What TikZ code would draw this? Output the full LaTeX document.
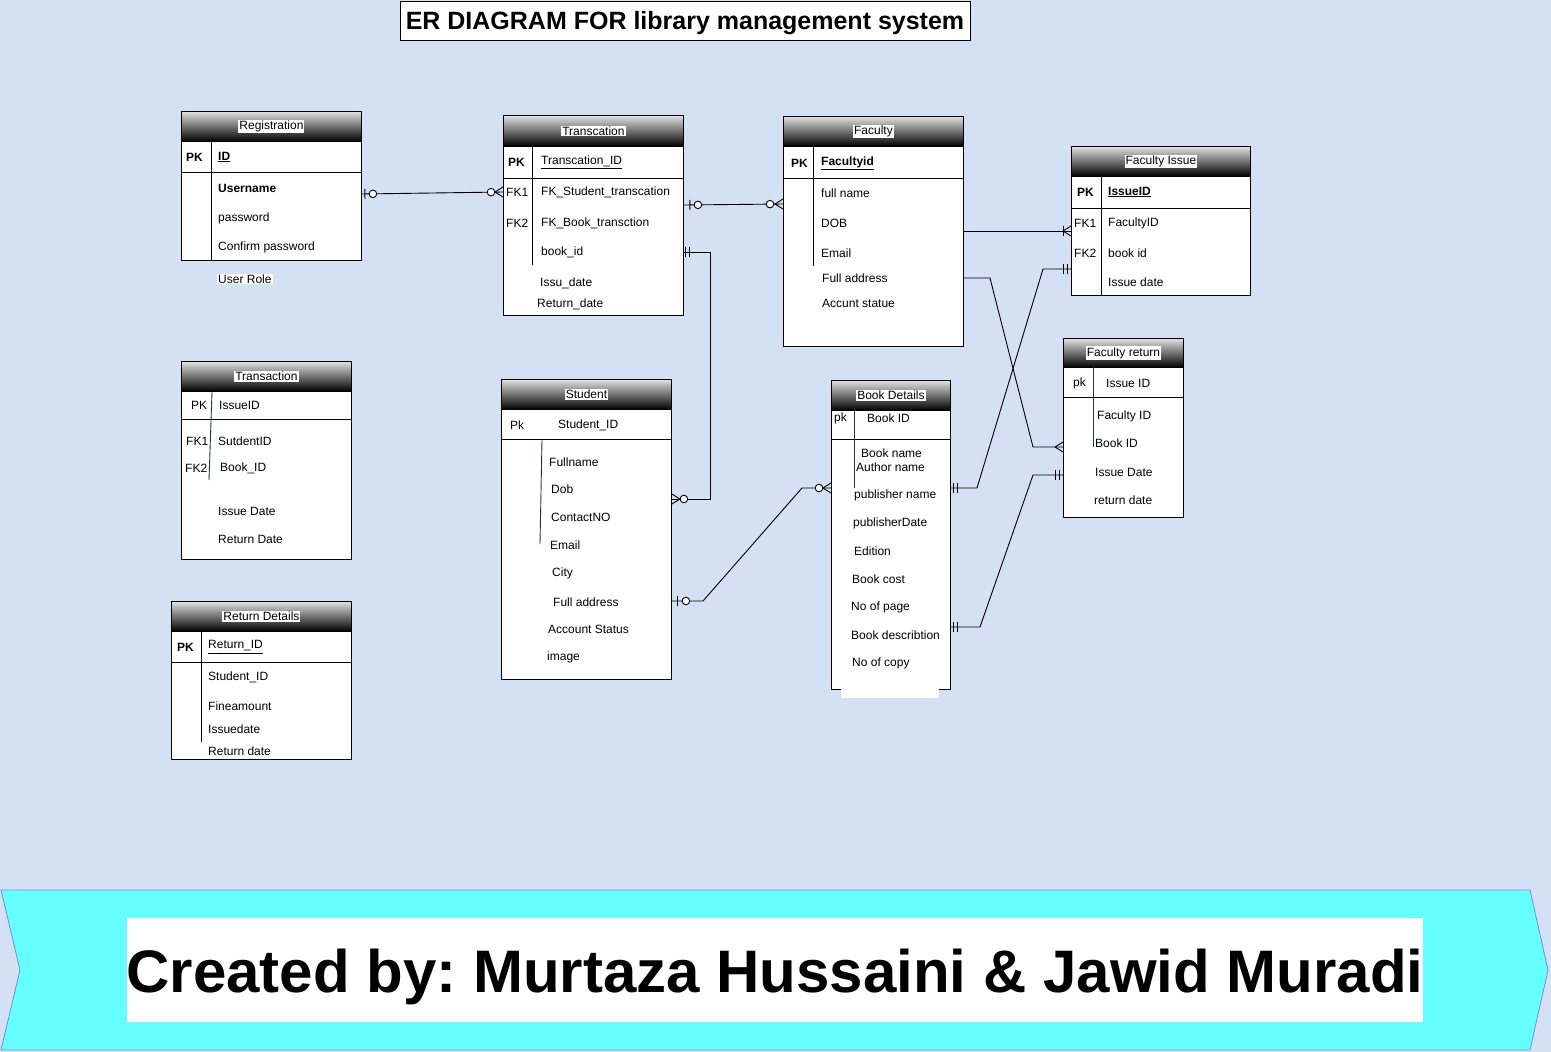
\documentclass[tikz,border=0pt]{standalone}
\usepackage{fontspec}
\setmainfont{Liberation Sans}
\usetikzlibrary{decorations.markings}

\definecolor{canvas}{HTML}{D4E1F5}
\definecolor{banner}{HTML}{66FFFF}
\definecolor{bannerline}{RGB}{120,140,215}
\definecolor{slate}{RGB}{35,52,72}

\begin{document}
\frenchspacing
\begin{tikzpicture}[x=1pt,y=-1pt,
    font=\fontsize{12}{14}\selectfont,
    tbl/.style={draw,line width=0.9pt,fill=white,anchor=north west,inner sep=0pt},
    hdr/.style={draw,line width=0.9pt,anchor=north west,inner sep=0pt,
      top color=white!88!black,bottom color=black,minimum height=30pt},
    lbl/.style={fill=white,inner sep=1pt},
    fld/.style={anchor=west,inner sep=0pt},
    key/.style={fld,font=\fontsize{12}{14}\selectfont\bfseries},
    sep/.style={line width=0.9pt},
    slatesep/.style={line width=0.9pt,draw=slate},
    rel/.style={draw,line width=0.9pt},
    onebar/.style={postaction={decorate,decoration={markings,
      mark=at position #1 with {\draw[line width=0.9pt] (0pt,-5pt) -- (0pt,5pt);}}}},
    zeroring/.style={postaction={decorate,decoration={markings,
      mark=at position #1 with {\draw[line width=0.9pt,fill=white] (0pt,0pt) circle (3.8pt);}}}},
    crowend/.style={postaction={decorate,decoration={markings,
      mark=at position 1 with {\draw[line width=0.9pt] (-8pt,0pt) -- (0pt,5pt) (-8pt,0pt) -- (0pt,-5pt);}}}}]

  \fill[canvas] (0,0) rectangle (1551,1052);
  \useasboundingbox (0,0) rectangle (1551,1052);

  % title
  \node[draw,line width=0.9pt,fill=white,minimum width=570pt,minimum height=39pt,inner sep=0pt,
    text depth=0pt,font=\fontsize{25}{29}\selectfont\bfseries] (title) at (685,20.5)
    {ER DIAGRAM FOR library management system};

  % Registration
  \node[tbl,minimum width=180pt,minimum height=149pt] (regbox) at (181,111) {};
  \node[hdr,minimum width=180pt] (reghead) at (181,111) {};
  \node[lbl] (reglbl) at (reghead.center) {Registration};
  \draw[sep] (181,172) -- (361,172);
  \draw[sep] (211,141) -- (211,260);
  \node[key] (regpk) at (186,157) {PK};
  \node[key] (regid) at (218,157) {\underline{ID}};
  \node[key] (regusr) at (218,188) {Username};
  \node[fld] (regpwd) at (218,218) {password};
  \node[fld] (regcpwd) at (218,247) {Confirm password};
  \node[fld,fill=white,inner sep=1pt] (regrole) at (217,279) {User Role};

  % Transcation
  \node[tbl,minimum width=180pt,minimum height=200pt] (transbox) at (503,115) {};
  \node[hdr,minimum width=180pt,minimum height=31pt] (transhead) at (503,115) {};
  \node[lbl] (translbl) at (transhead.center) {Transcation};
  \draw[sep] (503,178) -- (683,178);
  \draw[sep] (532,146) -- (532,265);
  \node[key] (transpk) at (508,162) {PK};
  \node[fld] (transid) at (541,162) {\underline{Transcation\_ID}};
  \node[fld] (transfka) at (506,192) {FK1};
  \node[fld] (transstud) at (541,192) {FK\_Student\_transcation};
  \node[fld] (transfkb) at (506,223) {FK2};
  \node[fld] (transbook) at (541,223) {FK\_Book\_transction};
  \node[fld] (transbid) at (541,252) {book\_id};
  \node[fld] (transissu) at (540,283) {Issu\_date};
  \node[fld] (transret) at (537,304) {Return\_date};

  % Faculty
  \node[tbl,minimum width=180pt,minimum height=230pt] (facbox) at (783,116) {};
  \node[hdr,minimum width=180pt] (fachead) at (783,116) {};
  \node[lbl] (faclbl) at (fachead.center) {Faculty};
  \draw[sep] (783,178) -- (963,178);
  \draw[sep] (813,146) -- (813,266);
  \node[key] (facpk) at (791,163) {PK};
  \node[key] (facid) at (821,163) {\underline{Facultyid}};
  \node[fld] (facname) at (821,193) {full name};
  \node[fld] (facdob) at (821,223) {DOB};
  \node[fld] (facmail) at (821,253) {Email};
  \node[fld] (facaddr) at (822,278) {Full address};
  \node[fld] (facstat) at (822,303) {Accunt statue};

  % Faculty Issue
  \node[tbl,minimum width=179pt,minimum height=149pt] (fibox) at (1071,146) {};
  \node[hdr,minimum width=179pt] (fihead) at (1071,146) {};
  \node[lbl] (filbl) at (fihead.center) {Faculty Issue};
  \draw[sep] (1071,208) -- (1250,208);
  \draw[sep] (1101,176) -- (1101,295);
  \node[key] (fipk) at (1077,192) {PK};
  \node[key] (fiid) at (1108,192) {\underline{IssueID}};
  \node[fld] (fifka) at (1074,223) {FK1};
  \node[fld] (fifac) at (1108,223) {FacultyID};
  \node[fld] (fifkb) at (1074,253) {FK2};
  \node[fld] (fibook) at (1108,253) {book id};
  \node[fld] (fidate) at (1108,282) {Issue date};

  % Transaction
  \node[tbl,minimum width=170pt,minimum height=198pt] (tnbox) at (181,361) {};
  \node[hdr,minimum width=170pt] (tnhead) at (181,361) {};
  \node[lbl] (tnlbl) at (tnhead.center) {Transaction};
  \draw[sep] (181,419) -- (351,419);
  \draw[slatesep] (212,392) -- (209,480);
  \node[fld] (tnpk) at (191,405) {PK};
  \node[fld] (tnid) at (219,405) {IssueID};
  \node[fld] (tnfka) at (186,441) {FK1};
  \node[fld] (tnstud) at (218,441) {SutdentID};
  \node[fld] (tnfkb) at (185,468) {FK2};
  \node[fld] (tnbook) at (220,468) {Book\_ID};
  \node[fld] (tnissue) at (218,511) {Issue Date};
  \node[fld] (tnret) at (218,539) {Return Date};

  % Return Details
  \node[tbl,minimum width=180pt,minimum height=158pt] (rdbox) at (171,601) {};
  \node[hdr,minimum width=180pt] (rdhead) at (171,601) {};
  \node[lbl] (rdlbl) at (rdhead.center) {Return Details};
  \draw[sep] (171,662) -- (351,662);
  \draw[sep] (201,631) -- (201,742);
  \node[key] (rdpk) at (177,647) {PK};
  \node[fld] (rdid) at (208,647) {\underline{Return\_ID}};
  \node[fld] (rdstud) at (208,677) {Student\_ID};
  \node[fld] (rdfine) at (208,706) {Fineamount};
  \node[fld] (rdissue) at (208,729) {Issuedate};
  \node[fld] (rdret) at (208,751) {Return date};

  % Student
  \node[tbl,minimum width=170pt,minimum height=300pt] (studbox) at (501,379) {};
  \node[hdr,minimum width=170pt] (studhead) at (501,379) {};
  \node[lbl] (studlbl) at (studhead.center) {Student};
  \draw[sep] (501,439) -- (671,439);
  \draw[slatesep] (542,440) -- (540,544);
  \node[fld] (studpk) at (510,425) {Pk};
  \node[fld] (studid) at (558,425) {Student\_ID};
  \node[fld] (studname) at (549,462) {Fullname};
  \node[fld] (studdob) at (551,489) {Dob};
  \node[fld] (studtel) at (551,517) {ContactNO};
  \node[fld] (studmail) at (550,545) {Email};
  \node[fld] (studcity) at (552,573) {City};
  \node[fld] (studaddr) at (553,602) {Full address};
  \node[fld] (studstat) at (548,629) {Account Status};
  \node[fld] (studimg) at (547,657) {image};

  % Book Details
  \node[tbl,minimum width=119pt,minimum height=309pt] (bookbox) at (831,380) {};
  \node[hdr,minimum width=119pt] (bookhead) at (831,380) {};
  \node[lbl] (booklbl) at (bookhead.center) {Book Details};
  \draw[sep] (831,439) -- (950,439);
  \draw[slatesep] (854,410) -- (854,488);
  \fill[white] (841,684) rectangle (939,698);
  \node[fld] (bookpk) at (834,418) {pk};
  \node[fld] (bookid) at (867,418) {Book ID};
  \node[fld] (bookname) at (861,453) {Book name};
  \node[fld] (bookauth) at (856,467) {Author name};
  \node[fld] (bookpub) at (854,495) {publisher name};
  \node[fld] (bookpdate) at (853,523) {publisherDate};
  \node[fld] (bookedit) at (854,551) {Edition};
  \node[fld] (bookcost) at (852,579) {Book cost};
  \node[fld] (bookpage) at (851,607) {No of page};
  \node[fld] (bookdesc) at (851,635) {Book describtion};
  \node[fld] (bookcopy) at (852,663) {No of copy};

  % Faculty return
  \node[tbl,minimum width=120pt,minimum height=179pt] (frbox) at (1063,338) {};
  \node[hdr,minimum width=120pt,minimum height=29pt] (frhead) at (1063,338) {};
  \node[lbl] (frlbl) at (frhead.center) {Faculty return};
  \draw[sep] (1063,397) -- (1183,397);
  \draw[slatesep] (1093,367) -- (1093,447);
  \node[fld] (frpk) at (1073,383) {pk};
  \node[fld] (frid) at (1106,383) {Issue ID};
  \node[fld] (frfac) at (1097,416) {Faculty ID};
  \node[fld] (frbook) at (1095,443) {Book ID};
  \node[fld] (frissue) at (1095,472) {Issue Date};
  \node[fld] (frret) at (1094,500) {return date};

  % relations
  \path[rel,onebar=3pt,zeroring=11pt,zeroring=-12pt,crowend]
    (regbox.east |- 0,194) -- (transbox.west |- 0,192);
  \path[rel,onebar=6pt,zeroring=14pt,zeroring=-13pt,crowend]
    (transbox.east |- 0,205) -- (facbox.west |- 0,204);
  \path[rel,onebar=2pt,onebar=6pt,zeroring=-12pt,crowend]
    (transbox.east |- 0,252) -- (710,252) -- (710,499) -- (studbox.east |- 0,499);
  \path[rel,onebar=6pt,zeroring=14pt,zeroring=-12pt,crowend]
    (studbox.east |- 0,601) -- (703,601) -- (802,488) -- (bookbox.west |- 0,488);
  \path[rel,onebar=-8pt,crowend]
    (facbox.east |- 0,231) -- (fibox.west |- 0,231);
  \path[rel,crowend]
    (facbox.east |- 0,278) -- (990,278) -- (1033,447) -- (frbox.west |- 0,447);
  \path[rel,onebar=3pt,onebar=7pt,onebar=-4pt,onebar=-8pt]
    (bookbox.east |- 0,488) -- (977,488) -- (1043,269) -- (fibox.west |- 0,269);
  \path[rel,onebar=3pt,onebar=7pt,onebar=-4pt,onebar=-8pt]
    (bookbox.east |- 0,627) -- (980,627) -- (1033,475) -- (frbox.west |- 0,475);

  % banner
  \path[fill=banner,draw=bannerline,line width=0.8pt]
    (1,890) -- (1530,890) -- (1548,970) -- (1530,1050) -- (1,1050) -- (20,970) -- cycle;
  \node[fill=white,minimum width=1296pt,minimum height=104pt,inner sep=0pt] (creditbox) at (775,970) {};
  \node[anchor=base,inner sep=0pt,font=\fontsize{60}{70}\selectfont\bfseries] (credit) at (775,992)
    {Created by: Murtaza Hussaini \& Jawid Muradi};
\end{tikzpicture}
\end{document}
